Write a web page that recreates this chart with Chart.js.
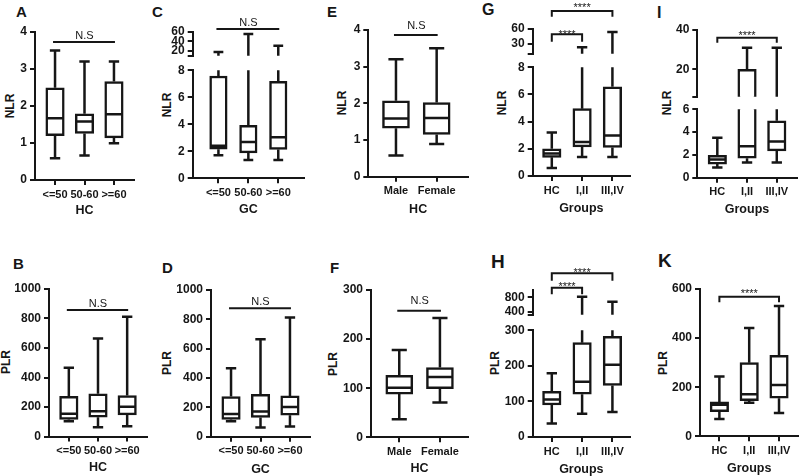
<!DOCTYPE html>
<html>
<head>
<meta charset="utf-8">
<script src="https://cdn.jsdelivr.net/npm/chart.js@4.4.1/dist/chart.umd.min.js"></script>
<style>
  body { margin: 0; width: 800px; height: 476px; overflow: hidden; position: relative; background: #fff;
         font-family: "Liberation Sans", Arial, sans-serif; color: #161616; }
  canvas { position: absolute; }
  .lt { position: absolute; font-weight: bold; line-height: 1; }
  .yt { position: absolute; font-weight: bold; font-size: 12px; white-space: nowrap;
        transform: translate(-50%, -50%) rotate(-90deg); }
</style>
</head>
<body>
<div class="lt" style="left:16px;top:4px;font-size:15px">A</div>
<div class="lt" style="left:13px;top:256px;font-size:15px">B</div>
<div class="lt" style="left:152px;top:4px;font-size:15px">C</div>
<div class="lt" style="left:162px;top:260px;font-size:15px">D</div>
<div class="lt" style="left:327px;top:4px;font-size:15px">E</div>
<div class="lt" style="left:330px;top:260px;font-size:15px">F</div>
<div class="lt" style="left:482px;top:2px;font-size:16px">G</div>
<div class="lt" style="left:491px;top:252px;font-size:19px">H</div>
<div class="lt" style="left:657px;top:5px;font-size:16px">I</div>
<div class="lt" style="left:658px;top:251px;font-size:19px">K</div>

<div class="yt" style="left:10px;top:106px">NLR</div>
<div class="yt" style="left:6px;top:362px">PLR</div>
<div class="yt" style="left:167px;top:105px">NLR</div>
<div class="yt" style="left:167px;top:363px">PLR</div>
<div class="yt" style="left:342px;top:103px">NLR</div>
<div class="yt" style="left:333px;top:364px">PLR</div>
<div class="yt" style="left:502px;top:103px">NLR</div>
<div class="yt" style="left:495px;top:363px">PLR</div>
<div class="yt" style="left:667px;top:103px">NLR</div>
<div class="yt" style="left:663px;top:363px">PLR</div>

<script>
const INK = '#161616';
const FONT = '"Liberation Sans", Arial, sans-serif';

// categories
const ageLabels = ['<=50', '50-60', '>=60'];
const sexLabels = ['Male', 'Female'];
const groupLabels = ['HC', 'I,II', 'III,IV'];

// tick labels
const nlr4Ticks = [0, 1, 2, 3, 4];
const nlr4TickLabels = ['0', '1', '2', '3', '4'];
const plr1000Ticks = [0, 200, 400, 600, 800, 1000];
const plr1000TickLabels = ['0', '200', '400', '600', '800', '1000'];
const plr300Ticks = [0, 100, 200, 300];
const plr300TickLabels = ['0', '100', '200', '300'];
const plr600Ticks = [0, 200, 400, 600];
const plr600TickLabels = ['0', '200', '400', '600'];
const low8Ticks = [0, 2, 4, 6, 8];
const low8TickLabels = ['0', '2', '4', '6', '8'];
const low6Ticks = [0, 2, 4, 6];
const low6TickLabels = ['0', '2', '4', '6'];
const cUpTicks = [10, 20, 40, 60];
const cUpTickLabels = ['', '20', '40', '60'];
const gUpTicks = [10, 30, 60];
const gUpTickLabels = ['', '30', '60'];
const hUpTicks = [320, 400, 800];
const hUpTickLabels = ['', '400', '800'];
const iUpTicks = [6, 20, 40];
const iUpTickLabels = ['', '20', '40'];

// A: NLR, HC by age
const aMin = [0.59, 0.66, 0.99];
const aQ1  = [1.2, 1.26, 1.14];
const aMed = [1.67, 1.58, 1.78];
const aQ3  = [2.49, 1.79, 2.66];
const aMax = [3.5, 3.2, 3.2];

// B: PLR, HC by age
const bMin = [104, 63, 70];
const bQ1  = [115, 131, 147];
const bMed = [154, 172, 201];
const bQ3  = [273, 290, 278];
const bMax = [466, 665, 812];

// C: NLR, GC by age
const cMin = [1.71, 1.35, 1.35];
const cQ1  = [2.15, 1.88, 2.13];
const cMed = [2.4, 2.69, 3.04];
const cQ3  = [7.57, 3.92, 7.18];
const cMax = [18, 55, 31];

// D: PLR, GC by age
const dMin = [105, 63, 70];
const dQ1  = [117, 131, 147];
const dMed = [154, 172, 202];
const dQ3  = [274, 289, 278];
const dMax = [467, 665, 812];

// E: NLR, HC by sex
const eMin = [0.58, 0.89];
const eQ1  = [1.32, 1.15];
const eMed = [1.59, 1.6];
const eQ3  = [2.07, 2.02];
const eMax = [3.2, 3.5];

// F: PLR, HC by sex
const fMin = [37, 71];
const fQ1  = [88, 99];
const fMed = [101, 123];
const fQ3  = [126, 142];
const fMax = [178, 243];

// G: NLR by group
const gMin = [0.58, 1.39, 1.39];
const gQ1  = [1.37, 2.14, 2.1];
const gMed = [1.66, 2.5, 2.98];
const gQ3  = [2.0, 4.95, 6.56];
const gMax = [3.2, 23, 54];

// H: PLR by group
const hMin = [38, 65, 70];
const hQ1  = [90, 120, 145];
const hMed = [105, 155, 203];
const hQ3  = [128, 265, 283];
const hMax = [179, 815, 675];

// I: NLR by group
const iMin = [0.9, 1.34, 1.34];
const iQ1  = [1.19, 1.71, 2.35];
const iMed = [1.6, 2.76, 3.17];
const iQ3  = [1.97, 20, 4.99];
const iMax = [3.5, 31, 31];

// K: PLR by group
const kMin = [70, 137, 95];
const kQ1  = [100, 145, 155];
const kMed = [129, 171, 209];
const kQ3  = [140, 300, 330];
const kMax = [244, 441, 531];

Chart.defaults.font.family = FONT;

// whiskers, caps and median lines, clipped to the segment
function whiskers(mins, meds, maxs, q1s, q3s, boxW) {
  return {
    id: 'whiskers',
    afterDatasetsDraw(chart) {
      const { ctx, chartArea: a, scales: { x, y } } = chart;
      const half = boxW / 2, cap = boxW * 0.28;
      ctx.save();
      ctx.beginPath();
      ctx.rect(a.left - 20, a.top, a.right - a.left + 40, a.bottom - a.top);
      ctx.clip();
      ctx.strokeStyle = INK;
      ctx.lineWidth = 2.5;
      mins.forEach((mn, i) => {
        const cx = x.getPixelForValue(i + 1);
        const pMin = y.getPixelForValue(mn), pMax = y.getPixelForValue(maxs[i]);
        const pQ1 = y.getPixelForValue(q1s[i]), pQ3 = y.getPixelForValue(q3s[i]);
        const pMed = y.getPixelForValue(meds[i]);
        ctx.beginPath();
        ctx.moveTo(cx, pQ3); ctx.lineTo(cx, pMax);
        ctx.moveTo(cx - cap, pMax); ctx.lineTo(cx + cap, pMax);
        ctx.moveTo(cx, pQ1); ctx.lineTo(cx, pMin);
        ctx.moveTo(cx - cap, pMin); ctx.lineTo(cx + cap, pMin);
        ctx.moveTo(cx - half + 1, pMed); ctx.lineTo(cx + half - 1, pMed);
        ctx.stroke();
      });
      ctx.restore();
    }
  };
}

// N.S lines and significance brackets
function marks(items) {
  return {
    id: 'marks',
    afterDraw(chart) {
      const { ctx, chartArea: a, scales: { x } } = chart;
      ctx.save();
      ctx.strokeStyle = INK;
      ctx.fillStyle = INK;
      ctx.lineWidth = 2;
      ctx.textAlign = 'center';
      ctx.textBaseline = 'alphabetic';
      items.forEach(m => {
        const x1 = x.getPixelForValue(m.from), x2 = x.getPixelForValue(m.to);
        const yy = a.top + m.dy;
        ctx.beginPath();
        if (m.drop) {
          ctx.moveTo(x1, yy + m.drop); ctx.lineTo(x1, yy); ctx.lineTo(x2, yy); ctx.lineTo(x2, yy + m.drop);
        } else {
          ctx.moveTo(x1 - 2, yy); ctx.lineTo(x2 + 1, yy);
        }
        ctx.stroke();
        const size = 11;
        const lift = m.text === 'N.S' ? 0.36 : 0.58;
        ctx.font = size + 'px ' + FONT;
        ctx.fillText(m.text, (x1 + x2) / 2, yy - m.gap + lift * size);
      });
      ctx.restore();
    }
  };
}

function addChart(s) {
  const yW = 40, tfs = 12.5;
  const hasX = !!s.xTitle;
  const padTop = s.padTop || 30;
  const xH = hasX ? (s.xTitleY - s.B) + tfs * 0.6 + 4 : 0;
  const left = Math.floor(s.L - yW);
  const top = Math.floor(s.T - padTop);
  const w = Math.ceil(s.R - left + 12);
  const h = Math.ceil((s.B - top) + xH + (hasX ? 0 : 8));
  const c = document.createElement('canvas');
  c.width = w; c.height = h;
  c.style.left = left + 'px'; c.style.top = top + 'px';
  c.style.width = w + 'px'; c.style.height = h + 'px';
  document.body.appendChild(c);
  const [mins, q1s, meds, q3s, maxs] = s.stats;
  const tickFont = { size: 12, weight: 'bold', family: FONT };
  new Chart(c, {
    type: 'bar',
    data: {
      datasets: [{
        data: q1s.map((v, i) => ({ x: i + 1, y: [v, q3s[i]] })),
        backgroundColor: '#fff',
        borderColor: INK,
        borderWidth: 2.5,
        borderSkipped: false,
        barThickness: s.barW,
        clip: { left: 20, right: 20, top: 0, bottom: 0 }
      }]
    },
    options: {
      responsive: false,
      animation: false,
      devicePixelRatio: 1,
      layout: { padding: { left: s.L - left - yW, top: s.T - top, right: w - (s.R - left), bottom: h - (s.B - top) - xH } },
      plugins: { legend: { display: false }, tooltip: { enabled: false } },
      scales: {
        x: {
          type: 'linear', min: s.xMin, max: s.xMax, display: hasX, offset: false,
          afterBuildTicks: sc => { sc.ticks = s.labels.map((_, i) => ({ value: i + 1 })); },
          afterFit: sc => { sc.height = xH; },
          ticks: { callback: (v, i) => s.labels[i], font: { size: 11, weight: 'bold', family: FONT }, color: INK,
                   maxRotation: 0, minRotation: 0, autoSkip: false, padding: 3 },
          grid: { offset: false, drawOnChartArea: false, drawTicks: true, tickLength: 5, color: INK, lineWidth: 2 },
          border: { display: true, color: INK, width: 2 },
          title: { display: hasX, text: s.xTitle || '', color: INK,
                   font: { size: tfs, weight: 'bold', family: FONT }, padding: { top: 4, bottom: 4 } }
        },
        y: {
          type: 'linear', min: s.yMin, max: s.yMax,
          afterBuildTicks: sc => { sc.ticks = s.yTicks.map(v => ({ value: v })); },
          afterFit: sc => { sc.width = yW; },
          ticks: { callback: (v, i) => s.yTickLabels[i], font: tickFont, color: INK, padding: 3, autoSkip: false },
          grid: { drawOnChartArea: false, drawTicks: true, tickLength: 5, color: INK, lineWidth: 2 },
          border: { display: true, color: INK, width: 2 }
        }
      }
    },
    plugins: [whiskers(mins, meds, maxs, q1s, q3s, s.barW), marks(s.marks || [])]
  });
}

const ageX = { xMin: 0.32, xMax: 3.68, labels: ageLabels };

// A
addChart({ L: 35, R: 134, T: 32, B: 180, yMin: 0, yMax: 4, yTicks: nlr4Ticks, yTickLabels: nlr4TickLabels,
  ...ageX, xTitle: 'HC', xTitleY: 211, barW: 18.5, stats: [aMin, aQ1, aMed, aQ3, aMax],
  marks: [{ from: 1, to: 3, dy: 10, gap: 7, text: 'N.S' }] });
// B
addChart({ L: 49, R: 147, T: 289, B: 436.5, yMin: 0, yMax: 1000, yTicks: plr1000Ticks, yTickLabels: plr1000TickLabels,
  ...ageX, xTitle: 'HC', xTitleY: 467.7, barW: 18.5, stats: [bMin, bQ1, bMed, bQ3, bMax],
  marks: [{ from: 1, to: 3, dy: 21, gap: 7, text: 'N.S' }] });
// C (broken axis)
addChart({ L: 192.7, R: 304, T: 69.3, B: 178.3, padTop: 9, yMin: 0, yMax: 8, yTicks: low8Ticks, yTickLabels: low8TickLabels,
  xMin: 0.14, xMax: 3.86, labels: ageLabels, xTitle: 'GC', xTitleY: 210, barW: 17.5, stats: [cMin, cQ1, cMed, cQ3, cMax] });
addChart({ L: 192.7, R: 304, T: 31.7, B: 57.7, yMin: 10, yMax: 60, yTicks: cUpTicks, yTickLabels: cUpTickLabels,
  xMin: 0.14, xMax: 3.86, labels: ageLabels, barW: 17.5, stats: [cMin, cQ1, cMed, cQ3, cMax],
  marks: [{ from: 1, to: 3, dy: -2.7, gap: 7.3, text: 'N.S' }] });
// D
addChart({ L: 211, R: 310, T: 290, B: 436.7, yMin: 0, yMax: 1000, yTicks: plr1000Ticks, yTickLabels: plr1000TickLabels,
  ...ageX, xTitle: 'GC', xTitleY: 470, barW: 18.5, stats: [dMin, dQ1, dMed, dQ3, dMax],
  marks: [{ from: 1, to: 3, dy: 18.3, gap: 7.6, text: 'N.S' }] });
// E
addChart({ L: 368.3, R: 468, T: 30, B: 176.7, yMin: 0, yMax: 4, yTicks: nlr4Ticks, yTickLabels: nlr4TickLabels,
  xMin: 0.32, xMax: 2.77, labels: sexLabels, xTitle: 'HC', xTitleY: 209.3, barW: 27, stats: [eMin, eQ1, eMed, eQ3, eMax],
  marks: [{ from: 1, to: 2, dy: 5, gap: 10, text: 'N.S' }] });
// F
addChart({ L: 371, R: 468, T: 290, B: 437.3, yMin: 0, yMax: 300, yTicks: plr300Ticks, yTickLabels: plr300TickLabels,
  xMin: 0.305, xMax: 2.69, labels: sexLabels, xTitle: 'HC', xTitleY: 468.7, barW: 27, stats: [fMin, fQ1, fMed, fQ3, fMax],
  marks: [{ from: 1, to: 2, dy: 20.7, gap: 10.5, text: 'N.S' }] });
// G (broken axis)
addChart({ L: 532.7, R: 630, T: 66.7, B: 176, padTop: 9, yMin: 0, yMax: 8, yTicks: low8Ticks, yTickLabels: low8TickLabels,
  xMin: 0.37, xMax: 3.58, labels: groupLabels, xTitle: 'Groups', xTitleY: 208.3, barW: 18.5, stats: [gMin, gQ1, gMed, gQ3, gMax] });
addChart({ L: 532.7, R: 630, T: 29, B: 55.3, yMin: 10, yMax: 60, yTicks: gUpTicks, yTickLabels: gUpTickLabels,
  xMin: 0.37, xMax: 3.58, labels: groupLabels, barW: 18.5, stats: [gMin, gQ1, gMed, gQ3, gMax],
  marks: [{ from: 1, to: 3, dy: -18, drop: 5.7, gap: 6, text: '****' },
          { from: 1, to: 2, dy: 5.3, drop: 7.4, gap: 2.7, text: '****' }] });
// H (broken axis)
addChart({ L: 532.7, R: 630, T: 329, B: 437, padTop: 9, yMin: 0, yMax: 300, yTicks: plr300Ticks, yTickLabels: plr300TickLabels,
  xMin: 0.37, xMax: 3.58, labels: groupLabels, xTitle: 'Groups', xTitleY: 469.3, barW: 18.5, stats: [hMin, hQ1, hMed, hQ3, hMax] });
addChart({ L: 532.7, R: 630, T: 290, B: 317, yMin: 320, yMax: 1000, yTicks: hUpTicks, yTickLabels: hUpTickLabels,
  xMin: 0.37, xMax: 3.58, labels: groupLabels, barW: 18.5, stats: [hMin, hQ1, hMed, hQ3, hMax],
  marks: [{ from: 1, to: 3, dy: -16.7, drop: 7.4, gap: 4, text: '****' },
          { from: 1, to: 2, dy: -2.3, drop: 6.6, gap: 4.3, text: '****' }] });
// I (broken axis)
addChart({ L: 697.3, R: 796.7, T: 108.7, B: 177.7, padTop: 9, yMin: 0, yMax: 6, yTicks: low6Ticks, yTickLabels: low6TickLabels,
  xMin: 0.327, xMax: 3.67, labels: groupLabels, xTitle: 'Groups', xTitleY: 209.3, barW: 18.5, stats: [iMin, iQ1, iMed, iQ3, iMax] });
addChart({ L: 697.3, R: 796.7, T: 30, B: 98.3, yMin: 6, yMax: 40, yTicks: iUpTicks, yTickLabels: iUpTickLabels,
  xMin: 0.327, xMax: 3.67, labels: groupLabels, barW: 18.5, stats: [iMin, iQ1, iMed, iQ3, iMax],
  marks: [{ from: 1, to: 3, dy: 7.7, drop: 5, gap: 5.3, text: '****' }] });
// K
addChart({ L: 700, R: 798.4, T: 289, B: 436.3, yMin: 0, yMax: 600, yTicks: plr600Ticks, yTickLabels: plr600TickLabels,
  xMin: 0.35, xMax: 3.65, labels: groupLabels, xTitle: 'Groups', xTitleY: 468.7, barW: 18.5, stats: [kMin, kQ1, kMed, kQ3, kMax],
  marks: [{ from: 1, to: 3, dy: 7.7, drop: 5.6, gap: 6, text: '****' }] });
</script>
</body>
</html>
